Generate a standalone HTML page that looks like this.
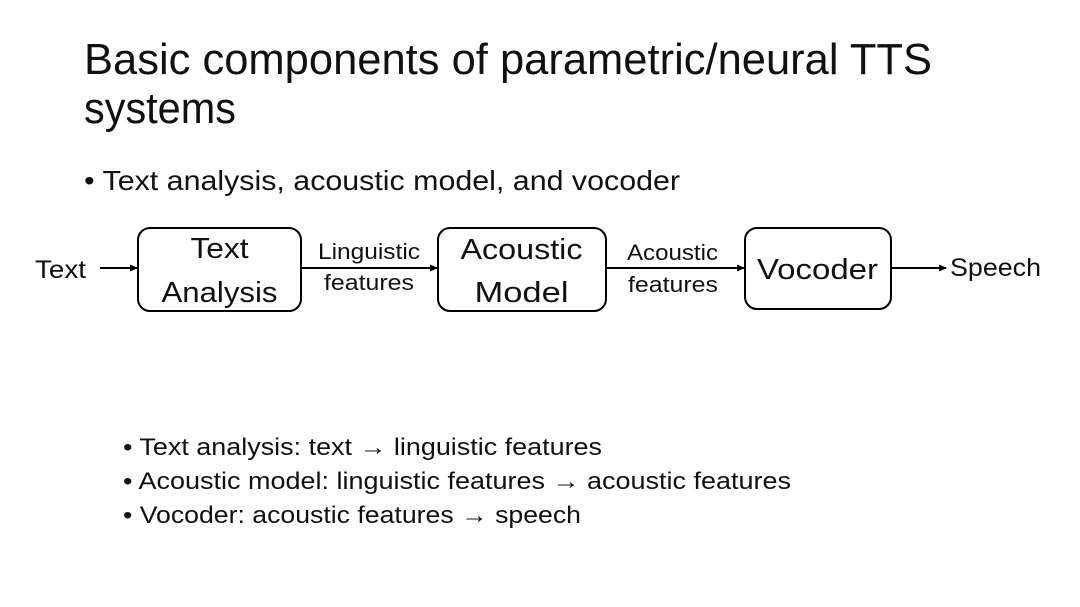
<!DOCTYPE html>
<html><head><meta charset="utf-8"><style>
html,body{margin:0;padding:0;background:#fff;}
svg{display:block;font-family:"Liberation Sans",sans-serif;}
</style></head><body>
<svg width="1080" height="607" viewBox="0 0 1080 607" xmlns="http://www.w3.org/2000/svg">
<defs><marker id="a" markerWidth="8" markerHeight="8" refX="7" refY="4" orient="auto" markerUnits="userSpaceOnUse"><path d="M0,0.5 L8,4 L0,7.5 z" fill="#000"/></marker></defs>
<g fill="#111">
<text x="84" y="74" font-size="44" textLength="848" lengthAdjust="spacingAndGlyphs">Basic components of parametric/neural TTS</text>
<text x="84" y="123" font-size="44" textLength="152" lengthAdjust="spacingAndGlyphs">systems</text>
<text x="84" y="190" font-size="28" textLength="596" lengthAdjust="spacingAndGlyphs">• Text analysis, acoustic model, and vocoder</text>
<text x="123" y="455" font-size="24" textLength="479" lengthAdjust="spacingAndGlyphs">• Text analysis: text → linguistic features</text>
<text x="123" y="489" font-size="24" textLength="668" lengthAdjust="spacingAndGlyphs">• Acoustic model: linguistic features → acoustic features</text>
<text x="123" y="523" font-size="24" textLength="458" lengthAdjust="spacingAndGlyphs">• Vocoder: acoustic features → speech</text>
<text x="35" y="278" font-size="25" textLength="51" lengthAdjust="spacingAndGlyphs">Text</text>
<text x="950" y="276" font-size="25" textLength="91" lengthAdjust="spacingAndGlyphs">Speech</text>
<text x="219.5" y="258" font-size="29" text-anchor="middle" textLength="58" lengthAdjust="spacingAndGlyphs">Text</text>
<text x="219.5" y="302" font-size="29" text-anchor="middle" textLength="116" lengthAdjust="spacingAndGlyphs">Analysis</text>
<text x="521.5" y="259" font-size="29" text-anchor="middle" textLength="122" lengthAdjust="spacingAndGlyphs">Acoustic</text>
<text x="521.5" y="302" font-size="29" text-anchor="middle" textLength="94" lengthAdjust="spacingAndGlyphs">Model</text>
<text x="817.5" y="279" font-size="29" text-anchor="middle" textLength="121" lengthAdjust="spacingAndGlyphs">Vocoder</text>
<text x="369" y="259" font-size="22" text-anchor="middle" textLength="102" lengthAdjust="spacingAndGlyphs">Linguistic</text>
<text x="369" y="290" font-size="22" text-anchor="middle" textLength="90" lengthAdjust="spacingAndGlyphs">features</text>
<text x="672.5" y="260" font-size="22" text-anchor="middle" textLength="91" lengthAdjust="spacingAndGlyphs">Acoustic</text>
<text x="673" y="292" font-size="22" text-anchor="middle" textLength="90" lengthAdjust="spacingAndGlyphs">features</text>
</g>
<g fill="none" stroke="#000" stroke-width="2">
<rect x="138" y="228" width="163" height="83" rx="12"/>
<rect x="438" y="228" width="168" height="83" rx="12"/>
<rect x="745" y="228" width="146" height="81" rx="12"/>
<line x1="100" y1="268" x2="137" y2="268" marker-end="url(#a)"/>
<line x1="302" y1="268" x2="437" y2="268" marker-end="url(#a)"/>
<line x1="606" y1="268" x2="744" y2="268" marker-end="url(#a)"/>
<line x1="891" y1="268" x2="946" y2="268" marker-end="url(#a)"/>
</g>
</svg>
</body></html>
